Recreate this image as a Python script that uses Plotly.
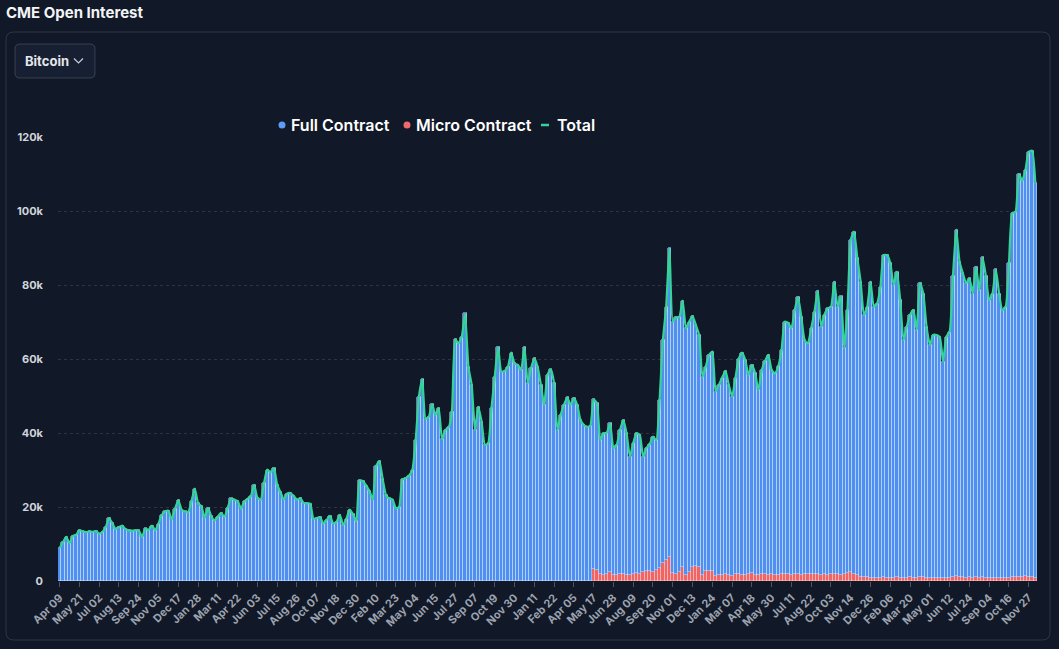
import pandas as pd
import plotly.graph_objects as go

# ---------------- data (thousands of contracts) ----------------
start_date = "2018-04-09"
n_weeks = 297

total_oi = [
    8.9, 10.5, 11.9, 10.2, 12.2, 12.5, 13.7, 13.4, 13.2, 13.4,
    13.3, 13.5, 12.8, 13.3, 14.6, 17.0, 15.6, 14.0, 14.6, 15.0,
    14.0, 13.7, 13.6, 13.7, 13.7, 11.9, 14.2, 13.8, 15.0, 13.7,
    15.5, 17.9, 18.8, 19.0, 16.6, 19.5, 21.8, 19.3, 18.8, 18.6,
    21.5, 25.0, 21.0, 20.2, 17.0, 19.8, 17.5, 16.4, 17.4, 18.4,
    17.3, 19.8, 22.3, 22.0, 21.6, 19.5, 21.5, 22.2, 22.9, 26.0,
    22.5, 22.0, 26.5, 30.1, 29.4, 30.5, 26.0, 24.0, 22.0, 23.6,
    23.8, 23.0, 22.0, 22.4, 21.1, 21.0, 20.9, 16.8, 17.0, 17.3,
    15.5, 16.5, 17.6, 15.5, 16.0, 17.9, 15.1, 16.8, 19.3, 18.0,
    16.1, 27.2, 27.0, 25.8, 24.3, 22.0, 31.0, 32.4, 27.5, 23.2,
    22.3, 22.0, 19.6, 20.0, 27.5, 27.8, 28.5, 30.0, 38.0, 49.8,
    54.5, 43.8, 44.4, 47.8, 44.9, 46.7, 38.3, 40.8, 41.5, 45.8,
    65.3, 64.2, 66.0, 72.3, 57.9, 53.0, 40.8, 47.1, 43.1, 36.8,
    37.2, 46.7, 55.2, 63.3, 56.6, 56.8, 57.9, 61.7, 58.8, 58.4,
    57.0, 63.2, 53.4, 57.5, 60.2, 57.9, 53.0, 47.6, 55.7, 57.2,
    53.4, 40.8, 44.9, 47.6, 49.6, 47.6, 49.4, 47.6, 43.5, 42.2,
    41.7, 42.0, 49.1, 48.0, 38.1, 39.9, 40.1, 42.6, 35.9, 36.8,
    40.8, 43.5, 39.9, 33.6, 37.2, 39.9, 39.5, 33.6, 35.9, 37.0,
    39.0, 38.1, 48.9, 65.1, 74.1, 89.9, 70.1, 71.3, 71.4, 75.8,
    68.3, 70.1, 71.6, 69.2, 66.5, 55.2, 57.9, 61.1, 62.0, 51.2,
    53.0, 55.0, 56.8, 53.0, 49.8, 54.8, 60.0, 61.7, 59.7, 55.7,
    58.4, 56.1, 51.6, 57.0, 59.5, 61.1, 57.0, 56.1, 58.0, 62.4,
    70.1, 69.8, 68.3, 73.2, 76.8, 71.4, 65.1, 64.2, 68.3, 72.8,
    78.5, 68.7, 71.9, 73.7, 74.1, 80.9, 74.1, 77.0, 62.9, 73.2,
    92.2, 94.4, 87.2, 80.9, 71.9, 74.1, 80.9, 74.1, 75.0, 79.5,
    88.1, 88.1, 85.9, 80.0, 83.6, 75.9, 65.1, 68.7, 71.9, 73.2,
    67.8, 80.6, 77.7, 68.7, 63.8, 66.5, 66.5, 66.0, 59.3, 66.0,
    67.4, 82.3, 95.0, 86.3, 83.2, 80.5, 81.8, 77.7, 85.0, 78.6,
    87.5, 82.3, 75.9, 77.7, 84.2, 77.7, 73.2, 74.1, 85.9, 99.4,
    99.8, 110.0, 108.2, 111.1, 116.0, 116.3, 107.5,
]

# Micro contracts only exist from week 162 (May 2021) on
micro_launch_week = 162
micro_after_launch = [
    3.2, 3.0, 1.8, 1.6, 1.8, 2.5, 1.5, 1.6, 1.8, 2.0,
    1.7, 1.6, 2.0, 2.2, 2.0, 2.4, 2.6, 2.8, 2.5, 3.0,
    3.5, 4.8, 5.8, 6.4, 2.2, 2.0, 2.3, 3.9, 1.6, 2.5,
    3.9, 4.0, 3.8, 1.6, 2.8, 2.8, 2.6, 1.4, 1.6, 1.5,
    1.8, 1.6, 1.4, 1.8, 2.0, 1.5, 1.6, 1.8, 2.2, 1.6,
    1.5, 1.8, 2.0, 1.6, 1.9, 1.7, 1.5, 1.8, 2.0, 1.8,
    1.6, 1.8, 2.0, 1.7, 1.9, 1.8, 1.8, 2.0, 1.8, 1.7,
    1.9, 1.7, 2.0, 1.8, 1.9, 1.7, 1.8, 2.2, 2.5, 2.0,
    1.5, 1.2, 1.0, 1.0, 0.9, 0.9, 0.8, 0.9, 1.0, 0.9,
    0.8, 0.9, 1.0, 0.8, 0.8, 0.9, 1.0, 0.9, 0.8, 1.1,
    1.0, 0.9, 0.8, 0.8, 0.9, 0.8, 0.7, 0.8, 0.9, 1.1,
    1.4, 1.2, 1.0, 0.9, 1.0, 0.9, 1.0, 0.9, 1.1, 0.9,
    0.8, 0.8, 0.9, 0.8, 0.7, 0.8, 0.9, 1.1, 1.0, 1.2,
    1.0, 1.3, 1.2, 1.0, 0.9,
]
micro_oi = [0.0] * micro_launch_week + micro_after_launch
full_oi = [round(t - m, 2) for t, m in zip(total_oi, micro_oi)]

weeks = pd.date_range(start_date, periods=n_weeks, freq="7D")

y_tick_vals = [0, 20, 40, 60, 80, 100, 120]
y_tick_text = ["0", "20k", "40k", "60k", "80k", "100k", "120k"]

series_names = ["Full Contract", "Micro Contract", "Total"]

# ---------------- styling ----------------
BG = "#111827"
BLUE = "#4f8ff0"
RED = "#f06464"
GREEN = "#34d399"
FONT = "Inter, Roboto, sans-serif"

# plot-area pixel geometry (for placing page decorations)
L, R, T, B = 58, 1037, 137, 581
W, H = R - L, B - T


def px(x):
    return (x - L) / W


def py(y):
    return (B - y) / H


def rounded_rect(x0, y0, x1, y1, r):
    rx, ry = r / W, r / H
    X0, X1 = px(x0), px(x1)
    Y0, Y1 = py(y0), py(y1)  # Y0 top (larger), Y1 bottom
    return (
        f"M {X0 + rx},{Y0} L {X1 - rx},{Y0} Q {X1},{Y0} {X1},{Y0 - ry} "
        f"L {X1},{Y1 + ry} Q {X1},{Y1} {X1 - rx},{Y1} "
        f"L {X0 + rx},{Y1} Q {X0},{Y1} {X0},{Y1 + ry} "
        f"L {X0},{Y0 - ry} Q {X0},{Y0} {X0 + rx},{Y0} Z"
    )


fig = go.Figure()

fig.add_trace(go.Bar(
    x=weeks, y=micro_oi, name=series_names[1],
    marker=dict(color=RED, line=dict(color="rgba(255,215,215,0.6)", width=0.7)),
))
fig.add_trace(go.Bar(
    x=weeks, y=full_oi, name=series_names[0],
    marker=dict(color=BLUE, line=dict(color="rgba(210,228,255,0.7)", width=0.7)),
))
fig.add_trace(go.Scatter(
    x=weeks, y=total_oi, name=series_names[2], mode="lines",
    line=dict(color=GREEN, width=2.2, shape="spline", smoothing=0.5),
))

# ---- page decorations: card, dropdown, title, legend row ----
LEG_Y = 125
shapes = [
    dict(type="path", xref="paper", yref="paper", path=rounded_rect(6, 32, 1050, 640, 8),
         line=dict(color="rgba(255,255,255,0.13)", width=1), fillcolor="rgba(0,0,0,0)",
         layer="below"),
    dict(type="path", xref="paper", yref="paper", path=rounded_rect(15, 44, 95, 78, 5),
         line=dict(color="rgba(255,255,255,0.16)", width=1), fillcolor="#162032",
         layer="below"),
    dict(type="path", xref="paper", yref="paper",
         path=f"M {px(74)},{py(58.5)} L {px(78.5)},{py(63)} L {px(83)},{py(58.5)}",
         line=dict(color="#c7ccd6", width=1.2)),
    # legend symbols
    dict(type="circle", xref="paper", yref="paper", xsizemode="pixel", ysizemode="pixel",
         xanchor=px(282), yanchor=py(LEG_Y), x0=-3.5, x1=3.5, y0=-3.5, y1=3.5,
         fillcolor="#5b9cf6", line=dict(width=0)),
    dict(type="circle", xref="paper", yref="paper", xsizemode="pixel", ysizemode="pixel",
         xanchor=px(407), yanchor=py(LEG_Y), x0=-3.5, x1=3.5, y0=-3.5, y1=3.5,
         fillcolor="#f16a6a", line=dict(width=0)),
    dict(type="line", xref="paper", yref="paper", x0=px(541), x1=px(549),
         y0=py(LEG_Y), y1=py(LEG_Y), line=dict(color=GREEN, width=2.5)),
]

annotations = [
    dict(text="<b>CME Open Interest</b>", x=px(4), y=py(12), xref="paper", yref="paper",
         xanchor="left", yanchor="middle", showarrow=False,
         font=dict(family=FONT, size=15, color="#f3f4f6")),
    dict(text="<b>Bitcoin</b>", x=px(23), y=py(61), xref="paper", yref="paper",
         xanchor="left", yanchor="middle", showarrow=False,
         font=dict(family=FONT, size=13, color="#e5e7eb")),
]
for name, left in zip(series_names, [289, 414, 555]):
    annotations.append(dict(
        text=name, x=px(left), y=py(LEG_Y), xref="paper", yref="paper",
        xanchor="left", yanchor="middle", showarrow=False,
        font=dict(family=FONT, size=16, color="#ffffff", weight=600)))

fig.update_layout(
    width=1059, height=649,
    paper_bgcolor=BG, plot_bgcolor=BG,
    margin=dict(l=L, r=1059 - R, t=T, b=649 - B, pad=0),
    barmode="stack", bargap=0.0,
    showlegend=False,
    shapes=shapes, annotations=annotations,
    hovermode="x unified",
)

fig.update_xaxes(
    type="date",
    range=[weeks[0] - pd.Timedelta(days=3.5), weeks[-1] + pd.Timedelta(days=3.5)],
    tick0=start_date, dtick=42 * 24 * 3600 * 1000, tickformat="%b %d",
    tickangle=-45, ticks="outside", ticklen=5, tickcolor="#4b5563",
    tickfont=dict(family=FONT, size=11, color="#9ca3af", weight=700),
    showgrid=False, zeroline=False, showline=False,
)
fig.update_yaxes(
    range=[0, 120], tickvals=y_tick_vals, ticktext=y_tick_text,
    tickfont=dict(family=FONT, size=11, color="#d1d5db", weight=700),
    showgrid=True, gridcolor="rgba(255,255,255,0.12)", griddash="dot", gridwidth=1,
    zeroline=False, showline=False, ticklabelstandoff=14,
)

fig.write_html("out.html")
